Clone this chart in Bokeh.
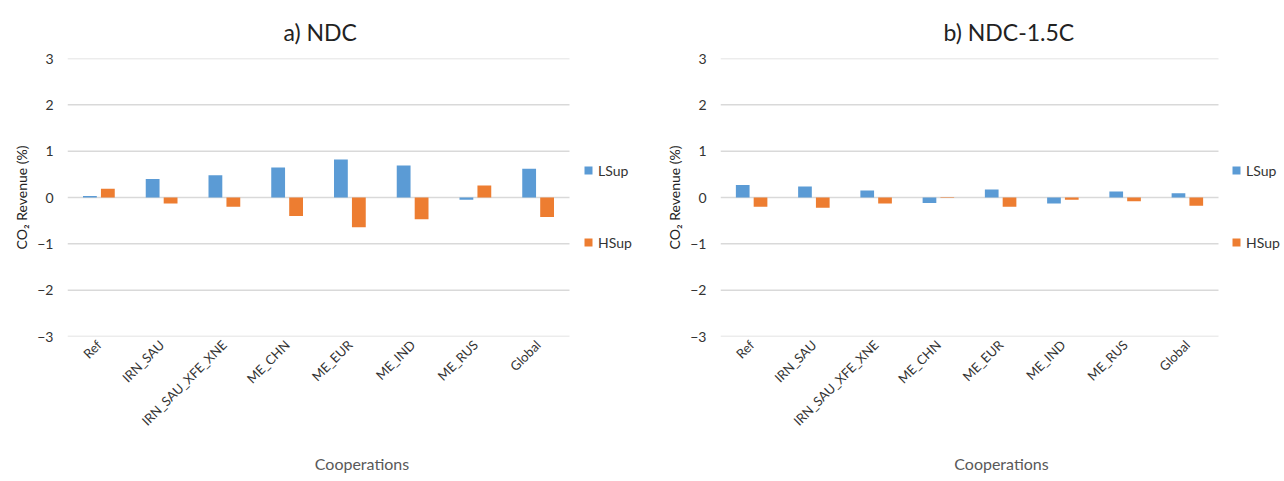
import numpy as np
from bokeh.plotting import figure
from bokeh.models import Legend, LegendItem, FixedTicker, Range1d
from bokeh.layouts import row
from bokeh.embed import file_html
from bokeh.resources import INLINE

categories = ["Ref", "IRN_SAU", "IRN_SAU_XFE_XNE", "ME_CHN", "ME_EUR", "ME_IND", "ME_RUS", "Global"]
ndc_lsup = [0.03, 0.40, 0.48, 0.65, 0.82, 0.69, -0.05, 0.62]
ndc_hsup = [0.19, -0.13, -0.20, -0.40, -0.64, -0.47, 0.26, -0.42]
ndc15_lsup = [0.27, 0.24, 0.15, -0.12, 0.17, -0.13, 0.13, 0.09]
ndc15_hsup = [-0.20, -0.22, -0.13, -0.01, -0.20, -0.05, -0.08, -0.18]
y_ticks = [-3, -2, -1, 0, 1, 2, 3]

FONT = "Lato"
BLUE = "#5B9BD5"
ORANGE = "#ED7D31"
GRAY = "#595959"


def make_panel(title, lsup, hsup, width, border_left, data_w, legend_x, title_offset):
    n = len(categories)
    frame_w = width - border_left
    centers = np.arange(n) + 0.5
    x_end = n * frame_w / data_w
    p = figure(x_range=Range1d(0, x_end), y_range=Range1d(-3, 3),
               width=width, height=476,
               output_backend="svg", toolbar_location=None,
               min_border=0, min_border_left=border_left,
               min_border_top=58, min_border_bottom=132)
    p.title.text = title
    p.title.align = "left"
    p.title.offset = title_offset
    p.title.text_font = FONT
    p.title.text_font_size = "23px"
    p.title.text_font_style = "normal"
    p.title.text_color = "#222222"
    p.title.standoff = 26
    p.outline_line_color = None
    p.background_fill_color = "white"
    p.border_fill_color = "white"
    p.xgrid.visible = False
    p.ygrid.visible = False

    # horizontal gridlines over the category area only
    p.segment(x0=0, x1=n, y0=y_ticks, y1=y_ticks, line_color="#D9D9D9", line_width=1.5)

    r1 = p.vbar(x=centers - 0.143, top=lsup, bottom=0, width=0.22,
                fill_color=BLUE, line_color=None)
    r2 = p.vbar(x=centers + 0.143, top=hsup, bottom=0, width=0.22,
                fill_color=ORANGE, line_color=None)

    p.yaxis.ticker = FixedTicker(ticks=y_ticks)
    p.xaxis.ticker = FixedTicker(ticks=list(centers))
    p.xaxis.major_label_overrides = {float(c): cat for c, cat in zip(centers, categories)}

    for ax in (p.xaxis[0], p.yaxis[0]):
        ax.axis_line_color = None
        ax.major_tick_line_color = None
        ax.minor_tick_line_color = None
        ax.major_tick_out = 0
        ax.major_tick_in = 0
        ax.minor_tick_out = 0
        ax.minor_tick_in = 0
        ax.major_label_text_font = FONT
        ax.axis_label_text_font = FONT
        ax.axis_label_text_font_style = "normal"
        ax.axis_label_text_color = GRAY

    p.xaxis.major_label_orientation = 0.785398
    p.xaxis.major_label_text_font_size = "13px"
    p.xaxis.major_label_text_color = "#333333"
    p.xaxis.major_label_standoff = 6
    p.xaxis.axis_label = "Cooperations"
    p.xaxis.axis_label_text_font_size = "16px"
    p.xaxis.axis_label_standoff = 17

    p.yaxis.major_label_text_font_size = "14px"
    p.yaxis.major_label_text_color = "#333333"
    p.yaxis.major_label_standoff = 14
    p.yaxis.axis_label = "CO\u2082 Revenue (%)"
    p.yaxis.axis_label_text_font_size = "14px"
    p.yaxis.axis_label_text_color = "#222222"
    p.yaxis.axis_label_standoff = 4

    legend = Legend(items=[LegendItem(label="LSup", renderers=[r1]),
                           LegendItem(label="HSup", renderers=[r2])],
                    location=(data_w + legend_x, 84), orientation="vertical",
                    glyph_width=10, glyph_height=10, label_height=20,
                    spacing=52, padding=0, margin=0, label_standoff=5,
                    label_text_font=FONT, label_text_font_size="14px",
                    label_text_color="#333333",
                    border_line_color=None, background_fill_alpha=0)
    p.add_layout(legend, "center")
    return p


p1 = make_panel("a) NDC", ndc_lsup, ndc_hsup, 656, 67, 502, 14, 216)
p2 = make_panel("b) NDC-1.5C", ndc15_lsup, ndc15_hsup, 626, 64, 498, 13, 223)

layout = row(p1, p2)
open("out.html", "w").write(file_html(layout, INLINE))
